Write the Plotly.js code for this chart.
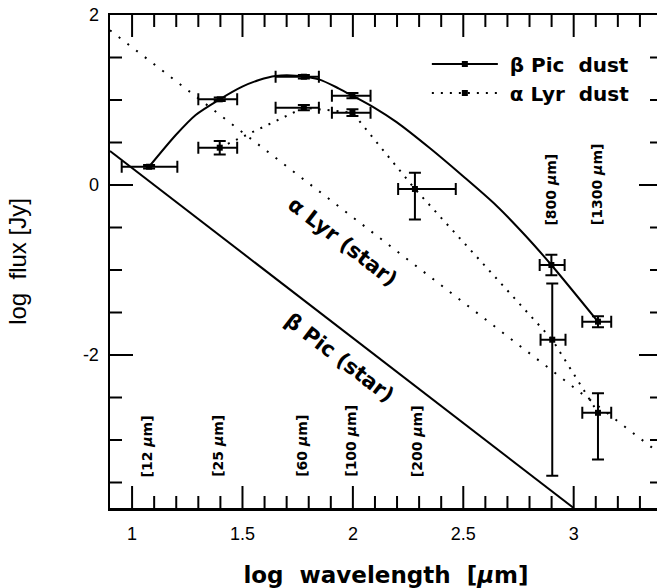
<!DOCTYPE html>
<html><head><meta charset="utf-8">
<script src="https://cdn.plot.ly/plotly-3.0.1.min.js"></script>
<style>html,body{margin:0;padding:0;overflow:hidden;background:#fff}</style>
</head><body><div id="chart"></div>
<script>
// beta Pic dust measurements (log wavelength [um], log flux [Jy])
const betaX = [1.077, 1.397, 1.778, 1.998, 2.899, 3.110];
const betaY = [0.215, 1.008, 1.274, 1.051, -0.941, -1.608];
const betaErrXPlus = [0.128, 0.079, 0.068, 0.082, 0.060, 0.060];
const betaErrXMinus = [0.124, 0.097, 0.128, 0.093, 0.053, 0.071];
const betaErrY = [0.02, 0.02, 0.02, 0.03, 0.12, 0.065];
// beta Pic dust model curve
const betaCurveX = [1.077, 1.198, 1.288, 1.397, 1.499, 1.575, 1.650, 1.741, 1.846, 1.937, 1.998, 2.100, 2.198, 2.348, 2.498, 2.647, 2.783, 2.899, 3.110];
const betaCurveY = [0.215, 0.588, 0.824, 1.008, 1.157, 1.235, 1.282, 1.286, 1.243, 1.135, 1.051, 0.905, 0.740, 0.435, 0.106, -0.235, -0.600, -0.941, -1.608];
// alpha Lyr dust measurements
const alphaX = [1.397, 1.778, 1.998, 2.281, 2.903, 3.110];
const alphaY = [0.439, 0.910, 0.851, -0.047, -1.820, -2.680];
const alphaErrXPlus = [0.079, 0.068, 0.082, 0.185, 0.060, 0.060];
const alphaErrXMinus = [0.097, 0.128, 0.093, 0.076, 0.053, 0.071];
const alphaErrYPlus = [0.08, 0.03, 0.04, 0.19, 0.66, 0.23];
const alphaErrYMinus = [0.08, 0.03, 0.04, 0.36, 1.60, 0.55];
// stellar photospheres (straight lines, end points)
const alphaStarX = [0.9, 3.4];
const alphaStarY = [1.82, -3.18];
const betaStarX = [0.9, 3.0];
const betaStarY = [0.40, -3.80];
// band labels
const bandLabels = ['[12 <i>\u03bc</i>m]', '[25 <i>\u03bc</i>m]', '[60 <i>\u03bc</i>m]', '[100 <i>\u03bc</i>m]', '[200 <i>\u03bc</i>m]', '[800 <i>\u03bc</i>m]', '[1300 <i>\u03bc</i>m]'];
const bandLambda = [12, 25, 60, 100, 200, 800, 1300];
// axis ticks
const xMajorTicks = [1, 1.5, 2, 2.5, 3];
const xMinorTicks = [1.1, 1.2, 1.3, 1.4, 1.6, 1.7, 1.8, 1.9, 2.1, 2.2, 2.3, 2.4, 2.6, 2.7, 2.8, 2.9, 3.1, 3.2, 3.3];
const yMajorTicks = [-2, 0];
const yMinorTicks = [-3.5, -3, -2.5, -1.5, -1, -0.5, 0.5, 1, 1.5];
const yTickVals = [-2, 0, 2];
const yTickText = ['-2', '0', '2'];

const BOLD = 'DejaVu Sans';
const SANS = 'Liberation Sans, Arial, sans-serif';

const W = 680, H = 588, M = {l: 110, r: 18, t: 15, b: 80};
const XR = [0.9, 3.4], YR = [-3.8, 2];
const pxPerX = (W - M.l - M.r) / (XR[1] - XR[0]);
const pxPerY = (H - M.t - M.b) / (YR[1] - YR[0]);

// inside tick marks on all four sides, drawn through the axes' scales
function xTickTrace(vals, lenPx) {
  const L = lenPx / pxPerY, xs = [], ys = [];
  vals.forEach(v => { xs.push(v, v, null, v, v, null); ys.push(YR[0], YR[0] + L, null, YR[1], YR[1] - L, null); });
  return {x: xs, y: ys, mode: 'lines', showlegend: false, hoverinfo: 'skip', line: {color: '#000', width: 2}};
}
function yTickTrace(vals, lenPx) {
  const L = lenPx / pxPerX, xs = [], ys = [];
  vals.forEach(v => { ys.push(v, v, null, v, v, null); xs.push(XR[0], XR[0] + L, null, XR[1], XR[1] - L, null); });
  return {x: xs, y: ys, mode: 'lines', showlegend: false, hoverinfo: 'skip', line: {color: '#000', width: 2}};
}

const traces = [
  {x: alphaStarX, y: alphaStarY, mode: 'lines', showlegend: false, hoverinfo: 'skip',
   line: {color: '#000', width: 2, dash: '2px,9px'}},
  {x: betaStarX, y: betaStarY, mode: 'lines', showlegend: false, hoverinfo: 'skip',
   line: {color: '#000', width: 2}},
  {x: betaCurveX, y: betaCurveY, mode: 'lines', showlegend: false,
   line: {color: '#000', width: 2, shape: 'spline', smoothing: 0.8}},
  {x: betaX, y: betaY, mode: 'markers', showlegend: false,
   marker: {symbol: 'square', size: 6, color: '#000'},
   error_x: {type: 'data', symmetric: false, array: betaErrXPlus, arrayminus: betaErrXMinus, color: '#000', thickness: 2, width: 6},
   error_y: {type: 'data', array: betaErrY, color: '#000', thickness: 2, width: 6}},
  {x: [null], y: [null], mode: 'lines+markers', name: '\u00a0\u03b2 Pic\u00a0\u00a0dust',
   line: {color: '#000', width: 2}, marker: {symbol: 'square', size: 6, color: '#000'}},
  {x: alphaX, y: alphaY, mode: 'lines+markers', name: '\u00a0\u03b1 Lyr\u00a0\u00a0dust',
   line: {color: '#000', width: 2, dash: '2px,7px'},
   marker: {symbol: 'square', size: 6, color: '#000'},
   error_x: {type: 'data', symmetric: false, array: alphaErrXPlus, arrayminus: alphaErrXMinus, color: '#000', thickness: 2, width: 6},
   error_y: {type: 'data', symmetric: false, array: alphaErrYPlus, arrayminus: alphaErrYMinus, color: '#000', thickness: 2, width: 6}},
  xTickTrace(xMajorTicks, 22), xTickTrace(xMinorTicks, 12),
  yTickTrace(yMajorTicks, 23), yTickTrace(yMinorTicks, 12)
];

const annotations = bandLambda.map((lam, i) => ({
  x: Math.log10(lam) - 0.01, y: lam >= 800 ? -0.50 : -3.46,
  xref: 'x', yref: 'y', text: bandLabels[i], showarrow: false,
  textangle: -90, xanchor: 'center', yanchor: 'bottom',
  font: {family: BOLD, size: 14, color: '#000', weight: 'bold'}
}));
annotations.push(
  {x: 1.955, y: -0.67, xref: 'x', yref: 'y', text: '\u03b1 Lyr (star)', showarrow: false, textangle: 37.6,
   font: {family: BOLD, size: 21, color: '#000', weight: 'bold'}},
  {x: 1.941, y: -2.035, xref: 'x', yref: 'y', text: '\u03b2 Pic (star)', showarrow: false, textangle: 37.6,
   font: {family: BOLD, size: 21, color: '#000', weight: 'bold'}}
);

const frame = {showgrid: false, zeroline: false, showline: true, linecolor: '#000', linewidth: 2.5,
  mirror: true, ticks: ''};

const layout = {
  width: W, height: H, margin: M,
  paper_bgcolor: '#fff', plot_bgcolor: 'rgba(0,0,0,0)',
  showlegend: true,
  legend: {x: 0.574, y: 0.94, xanchor: 'left', yanchor: 'top', bgcolor: 'rgba(0,0,0,0)',
    itemwidth: 66, tracegroupgap: 0,
    font: {family: BOLD, size: 20, color: '#000', weight: 'bold'}},
  xaxis: Object.assign({}, frame, {range: XR,
    tickmode: 'linear', tick0: 1, dtick: 0.5, ticklabelstandoff: 8,
    tickfont: {family: SANS, size: 18, color: '#000'},
    title: {text: 'log\u00a0\u00a0wavelength\u00a0\u00a0[<i>\u03bc</i>m]', standoff: 24,
      font: {family: BOLD, size: 23, color: '#000', weight: 'bold'}}}),
  yaxis: Object.assign({}, frame, {range: YR,
    tickmode: 'array', tickvals: yTickVals, ticktext: yTickText, ticklabelstandoff: 5,
    tickfont: {family: SANS, size: 18, color: '#000'},
    title: {text: 'log\u00a0\u00a0flux [Jy]', standoff: 50,
      font: {family: SANS, size: 24, color: '#000'}}}),
  annotations: annotations
};

Plotly.newPlot('chart', traces, layout, {displayModeBar: false, staticPlot: true});
</script></body></html>
